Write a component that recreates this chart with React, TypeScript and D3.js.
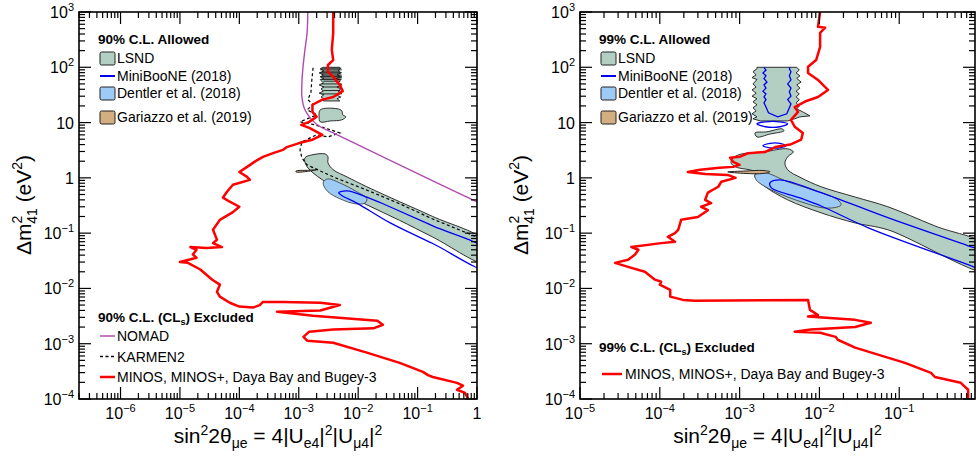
import React from "react";
import * as d3 from "d3";

type Pt = [number, number];

const FONT = "'Liberation Sans', Arial, Helvetica, sans-serif";
const LSND_FILL = "#b3cfc4";
const DENTLER_FILL = "#9dcbf6";
const GARIAZZO_FILL = "#d3ae80";
const MB_BLUE = "#0000f0";
const RED = "#ff0000";
const NOMAD_COL = "#b04cb0";

// ---------------- axes ----------------
const yDomain: Pt = [1e-4, 1e3];
const leftXDomain: Pt = [2e-7, 1];
const rightXDomain: Pt = [1e-5, 0.89];
const yTickExps = [-4, -3, -2, -1, 0, 1, 2, 3];
const leftXTickExps = [-6, -5, -4, -3, -2, -1, 0];
const rightXTickExps = [-5, -4, -3, -2, -1];

// ---------------- 90% C.L. (left) ----------------
const lsnd90Band: Pt[] = [
  [1.27e-3, 2.3], [1.66e-3, 2.6], [2.8e-3, 2.7], [3.1e-3, 2.4], [3.1e-3, 1.87], [3.8e-3, 1.4],
  [6.5e-3, 1.04], [0.014, 0.69], [0.05, 0.37], [0.18, 0.2], [1.5, 0.066],
  [1.5, 0.028], [0.18, 0.085], [0.05, 0.17], [0.014, 0.325], [4.4e-3, 0.61], [2.5e-3, 0.92],
  [1.74e-3, 1.23], [1.32e-3, 1.72],
];
const lsnd90Upper: Pt[] = [
  [2.6e-3, 100], [2.3e-3, 94], [2.65e-3, 86], [2.2e-3, 79], [2.6e-3, 73], [2.3e-3, 67], [2.65e-3, 63],
  [2.3e-3, 60], [2.6e-3, 52], [2.2e-3, 48], [2.65e-3, 44], [2.37e-3, 40.6], [2.6e-3, 37], [2.2e-3, 34],
  [2.65e-3, 32], [2.37e-3, 29], [2.65e-3, 27], [2.6e-3, 24.6],
  [4.9e-3, 24.6], [4.4e-3, 27], [5.1e-3, 29], [4.2e-3, 32], [5.3e-3, 34], [4.6e-3, 37], [5.1e-3, 40.6],
  [4.4e-3, 44], [5.3e-3, 48], [4.6e-3, 52], [5.1e-3, 60], [4.2e-3, 63], [5.3e-3, 67], [4.4e-3, 73],
  [5.1e-3, 79], [4.6e-3, 86], [4.9e-3, 94], [4.9e-3, 100],
];
// horizontal contour strokes inside the upper LSND 90% block: [Δm², sin²2θ from, sin²2θ to]
const lsnd90Strokes: [number, number, number][] = [
  [96, 2.4e-3, 5.2e-3], [90, 2.3e-3, 5.3e-3], [85, 2.5e-3, 5.0e-3], [80, 2.3e-3, 5.3e-3],
  [76, 2.4e-3, 5.1e-3], [72, 2.5e-3, 5.3e-3], [68, 2.3e-3, 5.0e-3], [64, 2.5e-3, 5.3e-3],
  [60, 2.4e-3, 5.2e-3], [56, 2.6e-3, 5.0e-3], [50, 2.4e-3, 5.3e-3], [44, 2.5e-3, 5.2e-3],
  [38, 2.6e-3, 5.0e-3], [33, 2.4e-3, 5.3e-3],
];
const lsnd90Island: Pt[] = [
  [2.3e-3, 17], [4.4e-3, 17.8], [5.3e-3, 16.3], [5.5e-3, 13.8], [6.2e-3, 12.7], [5.3e-3, 11.2],
  [3.4e-3, 10.7], [2.3e-3, 10.3], [2.2e-3, 12.7],
];
const dentler90: Pt[] = [
  [2.6e-3, 0.85], [3.1e-3, 0.96], [4.9e-3, 0.81], [9.5e-3, 0.56], [0.014, 0.42], [0.013, 0.35],
  [8.9e-3, 0.34], [4.9e-3, 0.42], [3.1e-3, 0.56], [2.6e-3, 0.75],
];
const gariazzo90: Pt[] = [[9e-4, 1.33], [1.4e-3, 1.37], [2.0e-3, 1.4], [1.4e-3, 1.31], [9e-4, 1.28]];
const miniboone90: Pt[] = [
  [4.7e-3, 0.54], [6.5e-3, 0.58], [0.014, 0.45], [0.034, 0.3], [0.18, 0.135], [1.5, 0.047],
  [1.5, 0.022], [0.18, 0.065], [0.034, 0.155], [9.5e-3, 0.35], [5.3e-3, 0.48],
];
const nomad90: Pt[] = [
  [1.42e-3, 1000], [1.38e-3, 420], [1.27e-3, 206], [1.18e-3, 102], [1.13e-3, 52], [1.13e-3, 29],
  [1.27e-3, 17], [1.66e-3, 11.2], [2.3e-3, 8.4], [3.8e-3, 6.5], [1.0, 0.37], [1.5, 0.31],
];
const karmen90: Pt[] = [
  [1.74e-3, 98], [1.66e-3, 59], [1.6e-3, 35], [1.42e-3, 26], [1.74e-3, 21], [1.38e-3, 17], [2.0e-3, 13.8],
  [1.05e-3, 10.3], [1.88e-3, 9.1], [3.4e-3, 7.4], [4.9e-3, 6.5], [3.1e-3, 5.5], [2.0e-3, 6.0],
  [1.13e-3, 4.5], [1.05e-3, 3.2], [1.13e-3, 2.3], [1.38e-3, 1.72], [3.8e-3, 1.04], [0.014, 0.6],
  [0.05, 0.34], [0.18, 0.18], [1.0, 0.085],
];
const minos90: Pt[] = [
  [3.8e-3, 1000], [3.8e-3, 420], [3.6e-3, 206], [3.8e-3, 135], [3.1e-3, 110], [3.1e-3, 83], [3.8e-3, 67],
  [4.9e-3, 48], [5.5e-3, 37], [3.8e-3, 29], [2.5e-3, 26], [1.7e-3, 21], [1.7e-3, 15.6], [2.0e-3, 12.7],
  [1.5e-3, 10.3], [1.1e-3, 9.1], [1.5e-3, 8.0], [2.5e-3, 6.0], [1.7e-3, 4.9], [1.05e-3, 4.3],
  [6.3e-4, 3.6], [5.4e-4, 3.2], [3.7e-4, 2.8], [2.5e-4, 2.4], [2.0e-4, 2.1], [1.35e-4, 1.58],
  [1.0e-4, 1.28], [1.35e-4, 1.04], [1.5e-4, 0.92], [7.8e-5, 0.75], [6.2e-5, 0.56], [5.3e-5, 0.44],
  [6.9e-5, 0.37], [1.0e-4, 0.3], [7.8e-5, 0.24], [4.7e-5, 0.174], [3.6e-5, 0.115], [4.2e-5, 0.076],
  [3.6e-5, 0.066], [5.1e-5, 0.056], [2.8e-5, 0.054], [1.5e-5, 0.056], [1.9e-5, 0.05], [1.65e-5, 0.041],
  [1.9e-5, 0.036], [1.0e-5, 0.03], [1.36e-5, 0.029], [2.2e-5, 0.022], [3.5e-5, 0.0144], [4.7e-5, 0.0117],
  [4.2e-5, 0.0087], [4.7e-5, 0.0071], [6.9e-5, 0.0055], [1.0e-4, 0.0047], [1.7e-4, 0.0045],
  [2.2e-4, 0.005], [2.5e-4, 0.0057], [5.4e-4, 0.0057], [2.3e-3, 0.0055], [4.9e-3, 0.005],
  [2.3e-3, 0.004], [4.3e-4, 0.0038], [1.74e-3, 0.0032], [0.021, 0.0026], [0.026, 0.0022],
  [0.018, 0.0019], [3.8e-3, 0.0018], [1.5e-3, 0.00165], [1.2e-3, 0.00133], [1.4e-3, 0.00113],
  [3.8e-3, 0.00104], [0.014, 6.9e-4], [0.05, 4.5e-4], [0.123, 3.1e-4], [0.15, 2.7e-4], [0.18, 2.5e-4],
  [0.46, 1.96e-4], [0.58, 1.74e-4], [0.46, 1.47e-4], [0.63, 1.29e-4], [0.71, 1.0e-4],
];

// ---------------- 99% C.L. (right) ----------------
const lsnd99Band: Pt[] = [
  [8.3e-4, 2.3], [1.05e-3, 2.7], [2.0e-3, 2.95], [4.0e-3, 3.35], [4.7e-3, 2.95], [4.0e-3, 2.4],
  [3.7e-3, 1.87], [4.0e-3, 1.4], [5.9e-3, 1.0], [0.0105, 0.69], [0.028, 0.45], [0.072, 0.3],
  [0.28, 0.135], [1.5, 0.052],
  [1.5, 0.019], [0.072, 0.115], [0.028, 0.153], [0.0105, 0.233], [4.0e-3, 0.4], [2.1e-3, 0.69],
  [1.56e-3, 1.04], [1.56e-3, 1.28], [8.9e-4, 1.58], [7.8e-4, 1.87],
];
const lsnd99Upper: Pt[] = [
  [1.65e-3, 100], [5.2e-3, 100], [5.6e-3, 89], [5.1e-3, 79], [5.7e-3, 70], [5.2e-3, 63], [5.9e-3, 54],
  [5.2e-3, 48], [5.7e-3, 42], [5.1e-3, 37], [5.6e-3, 33], [5.1e-3, 29], [5.6e-3, 26], [5.1e-3, 22.7],
  [5.6e-3, 20], [5.2e-3, 17.7], [6.2e-3, 15.6], [7.6e-3, 13.2], [5.7e-3, 12.7], [4.9e-3, 11.7],
  [4.0e-3, 10.7], [2.4e-3, 10.7], [1.82e-3, 10.7], [1.47e-3, 11.7], [1.65e-3, 12.7], [1.43e-3, 14.4],
  [1.61e-3, 16.3], [1.47e-3, 18.5], [1.65e-3, 21], [1.47e-3, 23.7], [1.65e-3, 27], [1.43e-3, 30],
  [1.61e-3, 34], [1.43e-3, 39], [1.61e-3, 44], [1.47e-3, 50], [1.65e-3, 60], [1.43e-3, 65],
  [1.61e-3, 73], [1.47e-3, 83], [1.65e-3, 94],
];
const lsnd99Island: Pt[] = [
  [1.56e-3, 6.5], [2.2e-3, 6.8], [3.4e-3, 7.7], [3.6e-3, 7.1], [2.4e-3, 6.2], [1.65e-3, 5.5],
];
const dentler99: Pt[] = [
  [1.56e-3, 1.13], [2.1e-3, 1.23], [4.0e-3, 0.85], [0.0105, 0.54], [0.017, 0.4], [0.0187, 0.325],
  [0.0156, 0.29], [0.0105, 0.29], [6.6e-3, 0.35], [4.0e-3, 0.45], [2.1e-3, 0.69], [1.61e-3, 0.92],
];
const gariazzo99: Pt[] = [
  [7.1e-4, 1.28], [1.2e-3, 1.33], [1.96e-3, 1.36], [2.4e-3, 1.29], [1.96e-3, 1.2], [1.2e-3, 1.2],
];
const miniboone99Main: Pt[] = [
  [2.4e-3, 0.81], [3.2e-3, 0.92], [0.0105, 0.54], [0.072, 0.19], [0.73, 0.059], [1.5, 0.041],
  [1.5, 0.0185], [0.73, 0.027], [0.041, 0.125], [0.0105, 0.31], [5.7e-3, 0.435], [2.5e-3, 0.66],
];
const miniboone99Upper: Pt[] = [
  [2.02e-3, 100], [2.14e-3, 89], [1.96e-3, 79], [2.14e-3, 70], [2.02e-3, 63], [2.2e-3, 54], [2.02e-3, 48],
  [2.14e-3, 42], [1.96e-3, 37], [2.14e-3, 33], [2.02e-3, 29], [2.14e-3, 26], [2.02e-3, 22.7],
  [2.14e-3, 19.2], [2.3e-3, 15.0], [3.0e-3, 12.7], [3.9e-3, 14.4], [4.2e-3, 18.5], [4.4e-3, 21.8],
  [4.0e-3, 26], [4.4e-3, 30], [4.2e-3, 36], [4.4e-3, 42], [4.0e-3, 50], [4.4e-3, 59], [4.2e-3, 70],
  [4.4e-3, 83], [4.2e-3, 94], [4.3e-3, 100],
];
const miniboone99RingA: Pt[] = [
  [1.65e-3, 9.5], [2.1e-3, 10.3], [3.2e-3, 10.3], [4.0e-3, 9.5], [3.2e-3, 8.4], [2.1e-3, 8.4],
];
const miniboone99RingB: Pt[] = [
  [1.96e-3, 3.8], [2.4e-3, 4.2], [3.2e-3, 4.2], [3.8e-3, 3.8], [3.2e-3, 3.5], [2.4e-3, 3.5],
];
const minos99: Pt[] = [
  [0.0102, 1000], [9.6e-3, 540], [0.0118, 520], [0.0102, 420], [0.0102, 234], [9.1e-3, 135],
  [7.2e-3, 102], [7.2e-3, 79], [9.6e-3, 59], [0.0128, 39], [9.6e-3, 29], [6.6e-3, 24], [4.9e-3, 19],
  [5.4e-3, 15.6], [4.4e-3, 11.2], [4.9e-3, 8.4], [6.2e-3, 6.5], [5.9e-3, 4.9], [4.3e-3, 4.0],
  [2.8e-3, 3.6], [2.1e-3, 2.95], [1.28e-3, 2.8], [1.0e-3, 2.4], [7.6e-4, 2.3], [8.3e-4, 1.95],
  [1.0e-3, 1.72], [8.3e-4, 1.58], [5.6e-4, 1.52], [3.2e-4, 1.4], [2.25e-4, 1.28], [3.7e-4, 1.18],
  [7.1e-4, 1.13], [8.9e-4, 1.0], [5.9e-4, 0.85], [5.4e-4, 0.69], [4.0e-4, 0.54], [3.7e-4, 0.4],
  [4.4e-4, 0.35], [3.3e-4, 0.3], [4.0e-4, 0.26], [3.0e-4, 0.196], [1.85e-4, 0.174], [1.7e-4, 0.115],
  [1.55e-4, 0.1], [1.26e-4, 0.086], [1.55e-4, 0.07], [1.04e-4, 0.066], [4.4e-5, 0.056], [5.4e-5, 0.05],
  [4.9e-5, 0.041], [4.0e-5, 0.033], [2.75e-5, 0.029], [4.0e-5, 0.0245], [6.5e-5, 0.02], [8.7e-5, 0.0144],
  [1.04e-4, 0.0132], [1.0e-4, 0.0117], [1.35e-4, 0.0094], [1.35e-4, 0.0071], [1.95e-4, 0.0062],
  [2.75e-4, 0.006], [7.2e-3, 0.0062], [7.6e-3, 0.0041], [9.6e-3, 0.0033], [7.2e-3, 0.0031],
  [0.028, 0.0027], [0.044, 0.0024], [0.028, 0.002], [7.8e-3, 0.0018], [4.9e-3, 0.00165],
  [0.0102, 0.00158], [0.016, 0.00133], [0.017, 0.00118], [0.028, 8.5e-4], [0.118, 4.5e-4],
  [0.25, 2.96e-4], [0.28, 2.5e-4], [0.59, 1.96e-4], [0.73, 1.47e-4], [0.73, 1.0e-4],
];

// ---------------- legend text ----------------
const allowedLabels = ["LSND", "MiniBooNE (2018)", "Dentler et al. (2018)", "Gariazzo et al. (2019)"];
const excludedLabels90 = ["NOMAD", "KARMEN2", "MINOS, MINOS+, Daya Bay and Bugey-3"];
const excludedLabels99 = ["MINOS, MINOS+, Daya Bay and Bugey-3"];

const PLOT_TOP = 12;
const PLOT_BOTTOM = 399;

type Shape = { pts: Pt[]; smooth: boolean };

interface PanelProps {
  id: string;
  x0: number;
  x1: number;
  xDomain: Pt;
  xTickExps: number[];
  cl: string;
  lsnd: Shape[];
  strokes?: [number, number, number][];
  dentler: Pt[];
  gariazzo: Pt[];
  mbClosed: Pt[][];
  mbOpen: Pt[][];
  nomad?: Pt[];
  karmen?: Pt[];
  minos: Pt[];
  excluded: string[];
  excludedY: number;
  yTitleX: number;
}

function Sup({ e }: { e: number }) {
  if (e === 0) return <>1</>;
  if (e === 1) return <>10</>;
  const s = e < 0 ? "\u2212" + Math.abs(e) : String(e);
  return (
    <>
      10<tspan dy={-7} fontSize={11}>{s}</tspan>
    </>
  );
}

function Panel(p: PanelProps) {
  const x = d3.scaleLog().domain(p.xDomain).range([p.x0, p.x1]);
  const y = d3.scaleLog().domain(yDomain).range([PLOT_BOTTOM, PLOT_TOP]);
  const lineOpen = d3.line<Pt>().x((d) => x(d[0])).y((d) => y(d[1]));
  const lineSmooth = d3.line<Pt>().x((d) => x(d[0])).y((d) => y(d[1])).curve(d3.curveCatmullRom.alpha(0.5));
  const closedSmooth = d3.line<Pt>().x((d) => x(d[0])).y((d) => y(d[1])).curve(d3.curveCatmullRomClosed.alpha(0.5));
  const closedLin = d3.line<Pt>().x((d) => x(d[0])).y((d) => y(d[1])).curve(d3.curveLinearClosed);

  const xTicks: { px: number; major: boolean }[] = [];
  const [xa, xb] = p.xDomain;
  for (let dec = Math.floor(Math.log10(xa)); dec <= Math.ceil(Math.log10(xb)); dec++) {
    for (let m = 1; m <= 9; m++) {
      const v = m * Math.pow(10, dec);
      if (v >= xa * 0.999 && v <= xb * 1.001) xTicks.push({ px: x(v), major: m === 1 });
    }
  }
  const yTicks: { py: number; major: boolean }[] = [];
  for (let dec = -4; dec <= 3; dec++) {
    for (let m = 1; m <= 9; m++) {
      const v = m * Math.pow(10, dec);
      if (v >= 1e-4 * 0.999 && v <= 1e3 * 1.001) yTicks.push({ py: y(v), major: m === 1 });
    }
  }
  const MAJ = 12, MIN = 6;
  const clip = `clip-${p.id}`;
  const lx = p.x0 + 21;
  const boxX = p.x0 + 21;
  const textX = p.x0 + 38;
  const xc = (p.x0 + p.x1) / 2;

  return (
    <g>
      <defs>
        <clipPath id={clip}>
          <rect x={p.x0} y={PLOT_TOP} width={p.x1 - p.x0} height={PLOT_BOTTOM - PLOT_TOP} />
        </clipPath>
      </defs>
      <g clipPath={`url(#${clip})`}>
        {p.lsnd.map((s, i) => (
          <path key={"ls" + i} d={(s.smooth ? closedSmooth : closedLin)(s.pts) || ""} fill={LSND_FILL} stroke="#1a1a1a" strokeWidth={0.9} />
        ))}
        {(p.strokes || []).map((s, i) => (
          <line key={"st" + i} x1={x(s[1])} x2={x(s[2])} y1={y(s[0])} y2={y(s[0])} stroke="#1a1a1a" strokeWidth={0.9} />
        ))}
        <path d={closedSmooth(p.dentler) || ""} fill={DENTLER_FILL} stroke="#333" strokeWidth={0.8} />
        <path d={closedSmooth(p.gariazzo) || ""} fill={GARIAZZO_FILL} stroke="#222" strokeWidth={1} />
        {p.mbClosed.map((s, i) => (
          <path key={"mbc" + i} d={closedSmooth(s) || ""} fill="none" stroke={MB_BLUE} strokeWidth={1.3} />
        ))}
        {p.mbOpen.map((s, i) => (
          <path key={"mbo" + i} d={lineOpen(s) || ""} fill="none" stroke={MB_BLUE} strokeWidth={1.3} />
        ))}
        {p.karmen && <path d={lineOpen(p.karmen) || ""} fill="none" stroke="#000" strokeWidth={1.2} strokeDasharray="3,2.5" />}
        {p.nomad && <path d={lineSmooth(p.nomad) || ""} fill="none" stroke={NOMAD_COL} strokeWidth={1.4} />}
        <path d={lineOpen(p.minos) || ""} fill="none" stroke={RED} strokeWidth={2.5} strokeLinejoin="round" />
      </g>
      <rect x={p.x0} y={PLOT_TOP} width={p.x1 - p.x0} height={PLOT_BOTTOM - PLOT_TOP} fill="none" stroke="#000" strokeWidth={1.6} />
      {xTicks.map((t, i) => (
        <g key={"xt" + i}>
          <line x1={t.px} x2={t.px} y1={PLOT_BOTTOM} y2={PLOT_BOTTOM - (t.major ? MAJ : MIN)} stroke="#000" strokeWidth={1.2} />
          <line x1={t.px} x2={t.px} y1={PLOT_TOP} y2={PLOT_TOP + (t.major ? MAJ : MIN)} stroke="#000" strokeWidth={1.2} />
        </g>
      ))}
      {yTicks.map((t, i) => (
        <g key={"yt" + i}>
          <line x1={p.x0} x2={p.x0 + (t.major ? MAJ : MIN)} y1={t.py} y2={t.py} stroke="#000" strokeWidth={1.2} />
          <line x1={p.x1} x2={p.x1 - (t.major ? MAJ : MIN)} y1={t.py} y2={t.py} stroke="#000" strokeWidth={1.2} />
        </g>
      ))}
      {p.xTickExps.map((e) => (
        <text key={"xl" + e} x={x(Math.pow(10, e))} y={419} textAnchor="middle" fontSize={16}>
          <Sup e={e} />
        </text>
      ))}
      {yTickExps.map((e) => (
        <text key={"yl" + e} x={p.x0 - 5} y={y(Math.pow(10, e)) + 6} textAnchor="end" fontSize={16}>
          <Sup e={e} />
        </text>
      ))}
      <text transform={`translate(${p.yTitleX},205) rotate(-90)`} textAnchor="middle" fontSize={21}>
        Δm<tspan dy={-9} fontSize={14}>2</tspan>
        <tspan dx={-8} dy={15} fontSize={14}>41</tspan>
        <tspan dy={-6}> (eV</tspan>
        <tspan dy={-9} fontSize={14}>2</tspan>
        <tspan dy={9}>)</tspan>
      </text>
      <text x={xc} y={443} textAnchor="middle" fontSize={21}>
        sin<tspan dy={-8} fontSize={14}>2</tspan>
        <tspan dy={8}>2θ</tspan>
        <tspan dy={5} fontSize={14}>μe</tspan>
        <tspan dy={-5}> = 4|U</tspan>
        <tspan dy={5} fontSize={14}>e4</tspan>
        <tspan dy={-5}>|</tspan>
        <tspan dy={-8} fontSize={14}>2</tspan>
        <tspan dy={8}>|U</tspan>
        <tspan dy={5} fontSize={14}>μ4</tspan>
        <tspan dy={-5}>|</tspan>
        <tspan dy={-8} fontSize={14}>2</tspan>
      </text>
      <text x={lx - 2} y={44} fontSize={13.5} fontWeight="bold">{p.cl} C.L. Allowed</text>
      <rect x={boxX} y={52} width={15} height={13} rx={1.5} fill={LSND_FILL} stroke="#222" strokeWidth={1} />
      <text x={textX} y={63} fontSize={14}>{allowedLabels[0]}</text>
      <line x1={boxX} x2={boxX + 15} y1={76} y2={76} stroke={MB_BLUE} strokeWidth={2} />
      <text x={textX} y={81} fontSize={14}>{allowedLabels[1]}</text>
      <rect x={boxX} y={87} width={15} height={13} rx={1.5} fill={DENTLER_FILL} stroke="#222" strokeWidth={1} />
      <text x={textX} y={98} fontSize={14}>{allowedLabels[2]}</text>
      <rect x={boxX} y={111} width={15} height={13} rx={1.5} fill={GARIAZZO_FILL} stroke="#222" strokeWidth={1} />
      <text x={textX} y={122} fontSize={14}>{allowedLabels[3]}</text>
      <text x={lx - 2} y={p.excludedY} fontSize={13.5} fontWeight="bold">
        {p.cl} C.L. (CL<tspan dy={3} fontSize={9}>s</tspan>
        <tspan dy={-3}>) Excluded</tspan>
      </text>
      {p.excluded.map((lab, i) => {
        const isMinos = lab.startsWith("MINOS");
        const single = p.excluded.length === 1;
        const yy = single ? p.excludedY + 22 : p.excludedY + 14 + i * 20.5;
        const col = isMinos ? RED : lab === "NOMAD" ? NOMAD_COL : "#000";
        const x1 = single ? boxX + 1 : boxX;
        const x2 = single ? boxX + 21 : boxX + 15;
        return (
          <g key={"ex" + i}>
            <line x1={x1} x2={x2} y1={yy} y2={yy} stroke={col} strokeWidth={isMinos ? 2.5 : 1.5} strokeDasharray={lab === "KARMEN2" ? "3,2.5" : undefined} />
            <text x={single ? textX + 7 : textX} y={yy + 5} fontSize={14}>{lab}</text>
          </g>
        );
      })}
    </g>
  );
}

export default function App() {
  return (
    <svg
      width={976}
      height={461}
      viewBox="0 0 976 461"
      style={{ position: "absolute", left: 0, top: 0, background: "#fff", fontFamily: FONT }}
    >
      <rect x={0} y={0} width={976} height={461} fill="#fff" />
      <Panel
        id="l"
        x0={79}
        x1={477}
        xDomain={leftXDomain}
        xTickExps={leftXTickExps}
        cl="90%"
        lsnd={[
          { pts: lsnd90Band, smooth: true },
          { pts: lsnd90Upper, smooth: false },
          { pts: lsnd90Island, smooth: true },
        ]}
        strokes={lsnd90Strokes}
        dentler={dentler90}
        gariazzo={gariazzo90}
        mbClosed={[miniboone90]}
        mbOpen={[]}
        nomad={nomad90}
        karmen={karmen90}
        minos={minos90}
        excluded={excludedLabels90}
        excludedY={322}
        yTitleX={31}
      />
      <Panel
        id="r"
        x0={580}
        x1={975}
        xDomain={rightXDomain}
        xTickExps={rightXTickExps}
        cl="99%"
        lsnd={[
          { pts: lsnd99Band, smooth: true },
          { pts: lsnd99Upper, smooth: false },
          { pts: lsnd99Island, smooth: true },
        ]}
        dentler={dentler99}
        gariazzo={gariazzo99}
        mbClosed={[miniboone99Main, miniboone99RingA, miniboone99RingB]}
        mbOpen={[miniboone99Upper]}
        minos={minos99}
        excluded={excludedLabels99}
        excludedY={352}
        yTitleX={528}
      />
    </svg>
  );
}
